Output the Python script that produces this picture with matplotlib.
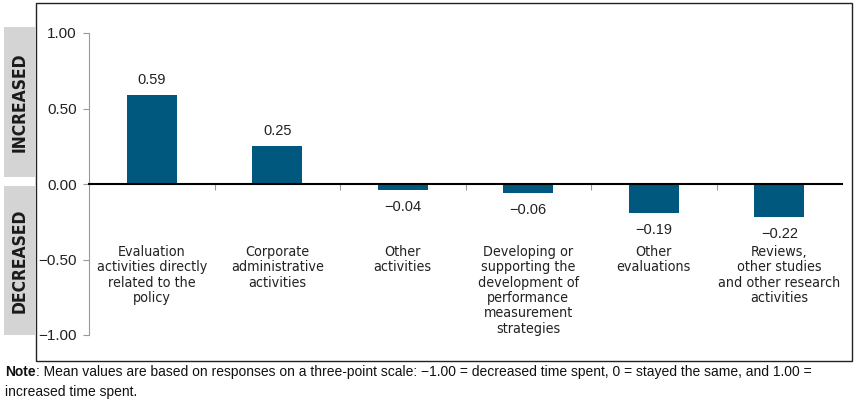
import matplotlib
matplotlib.use("Agg")
import matplotlib.pyplot as plt
from matplotlib import font_manager as fm
from matplotlib.patches import Rectangle

categories = [
    "Evaluation\nactivities directly\nrelated to the\npolicy",
    "Corporate\nadministrative\nactivities",
    "Other\nactivities",
    "Developing or\nsupporting the\ndevelopment of\nperformance\nmeasurement\nstrategies",
    "Other\nevaluations",
    "Reviews,\nother studies\nand other research\nactivities",
]
values = [0.59, 0.25, -0.04, -0.06, -0.19, -0.22]
yticks = [1.00, 0.50, 0.00, -0.50, -1.00]
note_bold = "Note"
note_rest = (": Mean values are based on responses on a three-point scale: \u22121.00 = decreased time spent, "
             "0 = stayed the same, and 1.00 =\nincreased time spent.")

names = {f.name for f in fm.fontManager.ttflist}
narrow = "Liberation Sans Narrow" if "Liberation Sans Narrow" in names else "DejaVu Sans"
sans = "Liberation Sans"

bar_color = "#00587f"
W, H = 857, 405
fig = plt.figure(figsize=(W / 100, H / 100), dpi=100)

def fx(px):
    return px / W

def fy(py):
    return 1 - py / H

# outer frame
fig.patches.append(Rectangle((fx(36), fy(361)), fx(852) - fx(36), fy(3) - fy(361),
                             transform=fig.transFigure, fill=False, edgecolor="#222222", lw=1.0))
# side labels
for (y0, y1, txt) in [(27, 177, "INCREASED"), (186, 335, "DECREASED")]:
    fig.patches.append(Rectangle((fx(4), fy(y1)), fx(35) - fx(4), fy(y0) - fy(y1),
                                 transform=fig.transFigure, facecolor="#d4d4d4", edgecolor="none"))
    fig.text(fx(19.5), (fy(y0) + fy(y1)) / 2, txt, rotation=90, ha="center", va="center",
             fontsize=12.5, fontweight="bold", fontstretch="condensed",
             family=[narrow, "DejaVu Sans"], color="#1a1a1a")

ax = fig.add_axes([fx(89), fy(335), fx(842) - fx(89), fy(33) - fy(335)])
x = list(range(len(values)))
bars = ax.bar(x, values, width=0.4, color=bar_color, zorder=2)
ax.set_xlim(-0.5, len(values) - 0.5)
ax.set_ylim(-1, 1)

ax.spines["top"].set_visible(False)
ax.spines["right"].set_visible(False)
ax.spines["left"].set_color("#999999")
ax.spines["bottom"].set_position(("data", 0))
ax.spines["bottom"].set_color("black")
ax.spines["bottom"].set_linewidth(1.5)
ax.spines["bottom"].set_zorder(3)

ax.set_yticks(yticks)
ax.set_yticklabels([f"{v:.2f}".replace("-", "\u2212") for v in yticks],
                   fontsize=11, family=sans, color="#222222")
ax.tick_params(axis="y", length=4, color="#999999", pad=5)
ax.set_xticks([i + 0.5 for i in range(len(values) - 1)])
ax.set_xticklabels([])
ax.tick_params(axis="x", length=4, color="#999999", direction="out")

for xi, v in zip(x, values):
    label = f"{v:.2f}".replace("-", "\u2212")
    if v >= 0:
        ax.annotate(label, (xi, v), xytext=(0, 8), textcoords="offset pixels",
                    ha="center", va="bottom", fontsize=10.5, family=sans, color="#222222")
    else:
        ax.annotate(label, (xi, v), xytext=(0, -10), textcoords="offset pixels",
                    ha="center", va="top", fontsize=10.5, family=sans, color="#222222")

for xi, c in zip(x, categories):
    ax.text(xi, -0.405, c, ha="center", va="top", fontsize=10.3, fontstretch="condensed",
            family=[narrow, "DejaVu Sans"], color="#222222", linespacing=1.12)

t1 = fig.text(fx(5), fy(372), note_bold, fontsize=10, fontweight="bold", family=sans,
              color="#111111", va="center")
fig.canvas.draw()
bb = t1.get_window_extent()
fig.text(bb.x1 / W, fy(372), note_rest.split("\n")[0], fontsize=10, family=sans,
         color="#111111", va="center")
fig.text(fx(5), fy(392), note_rest.split("\n")[1], fontsize=10, family=sans,
         color="#111111", va="center")

fig.savefig("out.png", dpi=100)
